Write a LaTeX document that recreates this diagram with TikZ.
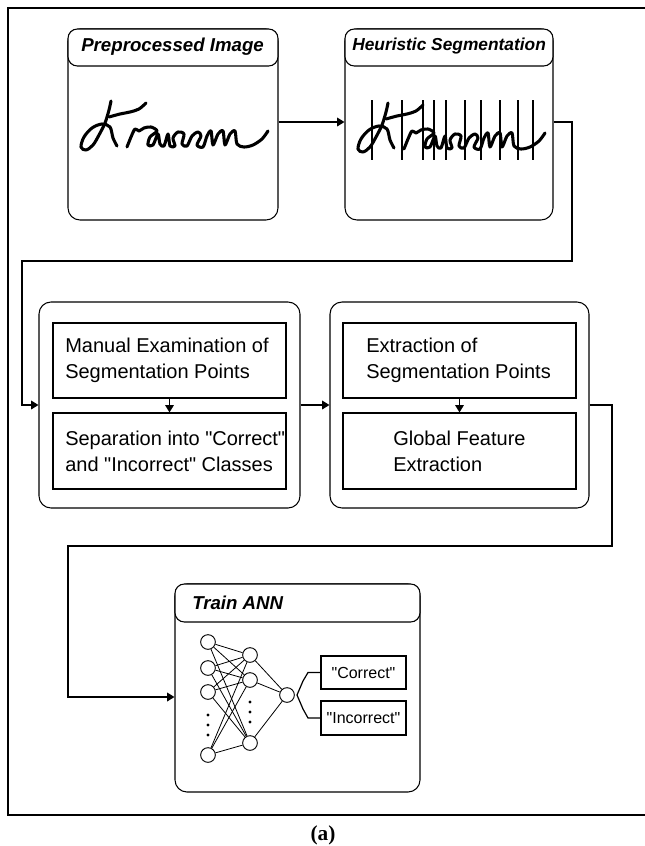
\documentclass[tikz,border=0pt]{standalone}
\usepackage{fontspec}
\setmainfont{Liberation Sans}[Ligatures=TeXOff]
\newfontfamily\capfont{Liberation Serif}
\usetikzlibrary{arrows.meta}
\newcommand{\sq}{\char34\relax}
\newcommand{\mkbox}[6]{\node[#6, minimum width={(#4-#2)*0.75pt}, minimum height={(#5-#3)*0.75pt}] (#1) at ({(#2+#4)/2},{(#3+#5)/2}) {};}
\newcommand{\drawHand}{%
  \draw[hand] plot[smooth, tension=0.55] coordinates {(111,101) (109,110) (105,123) (99,135) (93,145) (86,150) (81,147) (84,137) (92,128) (102,124) (110,127) (113,138) (117,146)};
  \draw[hand] plot[smooth, tension=0.55] coordinates {(109,117) (120,114) (130,112) (139,109) (146,103)};
  \draw[hand] plot[smooth, tension=0.5] coordinates {(127,147) (131,137) (135,129) (139,131) (144,128) (151,127) (157,131) (150,137) (148,145) (153,145) (158,134) (160,144) (164,146) (168,134) (170,146) (175,146) (173,138) (178,132) (184,134) (182,144) (187,146) (192,136) (198,132) (201,136) (197,145) (203,147) (207,136) (211,131) (213,145) (218,134) (223,131) (225,145) (230,134) (235,131) (237,144) (244,147) (253,145) (262,139) (268,131)};
}
\begin{document}
\begin{tikzpicture}[x=0.75pt,y=-0.75pt,
  bigbox/.style={draw, line width=0.8pt, rounded corners=9pt, inner sep=0pt},
  titlebar/.style={draw, line width=0.8pt, rounded corners=7pt, inner sep=0pt, fill=white},
  inbox/.style={draw, line width=0.9pt, inner sep=0pt},
  conn/.style={line width=0.9pt},
  arr/.style={line width=0.9pt, -{Triangle[length=5.5pt,width=6.5pt]}},
  ttl/.style={font=\fontsize{14}{16}\selectfont\bfseries\itshape, inner sep=0pt, anchor=base west},
  btxt/.style={font=\fontsize{15}{19.5}\selectfont, align=left, inner sep=0pt, anchor=west},
  stxt/.style={font=\fontsize{12}{14}\selectfont, inner sep=0pt},
  neuron/.style={circle, draw, line width=0.7pt, minimum size=11pt, inner sep=0pt},
  dotn/.style={circle, fill, inner sep=0pt, minimum size=2.4pt},
  hand/.style={line width=2.3pt, line cap=round, line join=round},
  seg/.style={line width=1.5pt}
]
\useasboundingbox (0,0) rectangle (645,846);
% outer frame
\draw[line width=1.2pt] (645,8) -- (8,8) -- (8,815) -- (645,815);

% top boxes
\mkbox{pre}{68}{29}{278}{220}{bigbox}
\mkbox{pret}{68}{29}{278}{66}{titlebar}
\mkbox{heu}{345}{29}{553}{220}{bigbox}
\mkbox{heut}{345}{29}{553}{66}{titlebar}
\node[ttl] (tpre) at (81,51) {Preprocessed Image};
\node[ttl, font=\fontsize{13}{15}\selectfont\bfseries\itshape] (theu) at (352,50) {Heuristic Segmentation};

\drawHand
\begin{scope}[shift={(277,2)}]
\drawHand
\end{scope}
\foreach \x in {372,402,423,434,446,465,481,500,518,533} \draw[seg] (\x,100) -- (\x,160);

% middle boxes
\mkbox{mbig}{39}{302}{300}{508}{bigbox}
\mkbox{mone}{53}{323}{286}{398}{inbox}
\mkbox{mtwo}{53}{413}{286}{489}{inbox}
\mkbox{ebig}{330}{302}{589}{508}{bigbox}
\mkbox{eone}{343}{323}{576}{398}{inbox}
\mkbox{etwo}{343}{413}{576}{489}{inbox}
\node[btxt] (xm1) at (65,360) {Manual Examination of\\Segmentation Points};
\node[btxt] (xm2) at (65,451) {Separation into "Correct"\\and "Incorrect" Classes};
\node[btxt] (xe1) at (366,360) {Extraction of\\Segmentation Points};
\node[btxt] (xe2) at (393,451) {Global Feature\\Extraction};

% ANN box
\mkbox{ann}{175}{584}{420}{792}{bigbox}
\mkbox{annt}{175}{584}{420}{622}{titlebar}
\node[ttl] (tann) at (192,609) {Train ANN};
\mkbox{cor}{321}{656}{406}{689}{inbox}
\mkbox{inc}{321}{701}{406}{735}{inbox}
\node[stxt] (tcor) at (cor.center) {"Correct"};
\node[stxt] (tinc) at (inc.center) {"Incorrect"};

% network
\node[neuron] (i1) at (208,642) {};
\node[neuron] (i2) at (208,668) {};
\node[neuron] (i3) at (208,692) {};
\node[neuron] (i4) at (208,755) {};
\node[neuron] (h1) at (250,655) {};
\node[neuron] (h2) at (250,680) {};
\node[neuron] (h3) at (250,743) {};
\node[neuron] (o) at (287,695) {};
\foreach \y [count=\k] in {715,725,735} \node[dotn] (di\k) at (208,\y) {};
\foreach \y [count=\k] in {702,712,722} \node[dotn] (dh\k) at (250,\y) {};
\foreach \a in {i1,i2,i3,i4} \foreach \b in {h1,h2,h3} \draw[line width=0.6pt] (\a) -- (\b);
\foreach \b in {h1,h2,h3} \draw[line width=0.6pt] (\b) -- (o);
\coordinate (fk) at (297,695);
\draw[conn] (fk) -- (303,681) -- (308,672.5) -- (cor.west);
\draw[conn] (fk) -- (303,709) -- (308,718) -- (inc.west);

% connectors
\coordinate (ya) at (0,122);
\draw[arr] (pre.east |- ya) -- (heu.west |- ya);
\coordinate (ra) at (572,122);
\coordinate (rb) at (572,261);
\coordinate (rc) at (22,261);
\draw[arr] (heu.east |- ra) -- (ra) -- (rb) -- (rc) -- (rc |- mbig.west) -- (mbig.west);
\draw[arr] (mone.south) -- (mtwo.north);
\draw[arr] (eone.south) -- (etwo.north);
\draw[arr] (mbig.east) -- (ebig.west);
\coordinate (sb) at (612,546);
\coordinate (sc) at (68,546);
\coordinate (sd) at (68,697);
\draw[arr] (ebig.east) -- (sb |- ebig.east) -- (sb) -- (sc) -- (sd) -- (ann.west |- sd);

% caption
\node[font=\capfont\bfseries\fontsize{16}{18}\selectfont, inner sep=0pt] (cap) at (323,835) {(a)};
\end{tikzpicture}
\end{document}
